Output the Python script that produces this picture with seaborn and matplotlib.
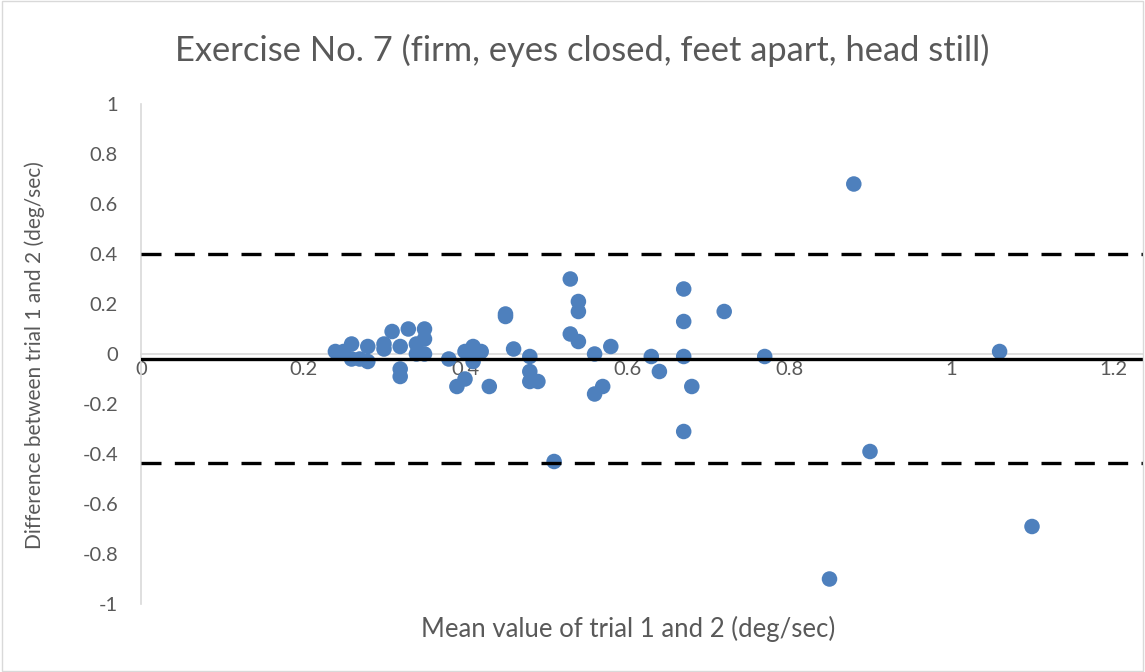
import pandas as pd
import seaborn as sns
import matplotlib.pyplot as plt
from matplotlib.patches import Rectangle


# Bland-Altman Werte
mean_vals = [0.24, 0.25, 0.26, 0.26, 0.27, 0.28, 0.28, 0.30, 0.30, 0.31, 0.32, 0.32, 0.32,
             0.33, 0.34, 0.34, 0.35, 0.35, 0.35, 0.38, 0.39, 0.40, 0.40, 0.41, 0.41, 0.42,
             0.43, 0.45, 0.45, 0.46, 0.48, 0.48, 0.48, 0.49, 0.51, 0.53, 0.53, 0.54, 0.54,
             0.54, 0.56, 0.56, 0.57, 0.58, 0.63, 0.64, 0.67, 0.67, 0.67, 0.67, 0.68, 0.72,
             0.77, 0.85, 0.88, 0.90, 1.06, 1.10]
diff_vals = [0.01, 0.01, 0.04, -0.02, -0.02, 0.03, -0.03, 0.04, 0.02, 0.09, 0.03, -0.06, -0.09,
             0.10, 0.04, 0.00, 0.10, 0.06, 0.00, -0.02, -0.13, 0.01, -0.10, 0.03, -0.03, 0.01,
             -0.13, 0.16, 0.15, 0.02, -0.01, -0.07, -0.11, -0.11, -0.43, 0.30, 0.08, 0.21, 0.17,
             0.05, 0.00, -0.16, -0.13, 0.03, -0.01, -0.07, 0.26, 0.13, -0.01, -0.31, -0.13, 0.17,
             -0.01, -0.90, 0.68, -0.39, 0.01, -0.69]

mean_diff = -0.02
upper_loa = 0.40
lower_loa = -0.435

x_ticks = [0, 0.2, 0.4, 0.6, 0.8, 1.0, 1.2]
x_tick_labels = ['0', '0.2', '0.4', '0.6', '0.8', '1', '1.2']
y_ticks = [1, 0.8, 0.6, 0.4, 0.2, 0, -0.2, -0.4, -0.6, -0.8, -1]
y_tick_labels = ['1', '0.8', '0.6', '0.4', '0.2', '0', '-0.2', '-0.4', '-0.6', '-0.8', '-1']

title = 'Exercise No. 7 (firm, eyes closed, feet apart, head still)'
x_label = 'Mean value of trial 1 and 2 (deg/sec)'
y_label = 'Difference between trial 1 and 2 (deg/sec)'

df = pd.DataFrame({'mean': mean_vals, 'diff': diff_vals})

sns.set_style('white')
plt.rcParams['font.family'] = ['Lato', 'DejaVu Sans']
grey = '#595959'

fig = plt.figure(figsize=(11.45, 6.72), dpi=100)
ax = fig.add_axes([141 / 1145, 1 - 604 / 672, 1002 / 1145, 500 / 672])

sns.scatterplot(data=df, x='mean', y='diff', ax=ax, color='#4E80BD', s=125,
                edgecolor='none', zorder=2)

# Mittelwert und Limits of Agreement
ax.axhline(mean_diff, color='black', lw=2.4, zorder=3)
ax.axhline(upper_loa, color='black', lw=2.4, ls=(0, (6, 4)), zorder=3)
ax.axhline(lower_loa, color='black', lw=2.4, ls=(0, (6, 4)), zorder=3)

ax.set_xlim(0, 1002 / 810)
ax.set_ylim(-1, 1)
ax.set_xticks(x_ticks)
ax.set_xticklabels(x_tick_labels)
ax.set_yticks(y_ticks)
ax.set_yticklabels(y_tick_labels)

for s in ['top', 'right']:
    ax.spines[s].set_visible(False)
ax.spines['bottom'].set_position(('data', 0))
ax.spines['bottom'].set_color('#D9D9D9')
ax.spines['left'].set_color('#D9D9D9')
ax.spines['bottom'].set_linewidth(1.2)
ax.spines['left'].set_linewidth(1.2)
ax.spines['bottom'].set_zorder(1)
ax.tick_params(axis='both', colors='#D9D9D9', labelcolor=grey, labelsize=14.5,
               width=1.2, direction='out')
ax.tick_params(axis='y', length=6.5, pad=10)
ax.tick_params(axis='x', length=4, pad=1)

ax.set_xlabel('')
ax.set_ylabel('')
fig.text(628 / 1145, 1 - 629 / 672, x_label, ha='center', va='center', fontsize=18.5, color=grey)
fig.text(35 / 1145, 1 - 355 / 672, y_label, ha='center', va='center', fontsize=15,
         color=grey, rotation=90)
fig.text(582 / 1145, 1 - 50 / 672, title, ha='center', va='center', fontsize=24.8, color=grey)

fig.patches.append(Rectangle((0.002, 0.002), 0.996, 0.996, transform=fig.transFigure,
                             fill=False, edgecolor='#D9D9D9', lw=1))

fig.savefig('out.png', dpi=100)
